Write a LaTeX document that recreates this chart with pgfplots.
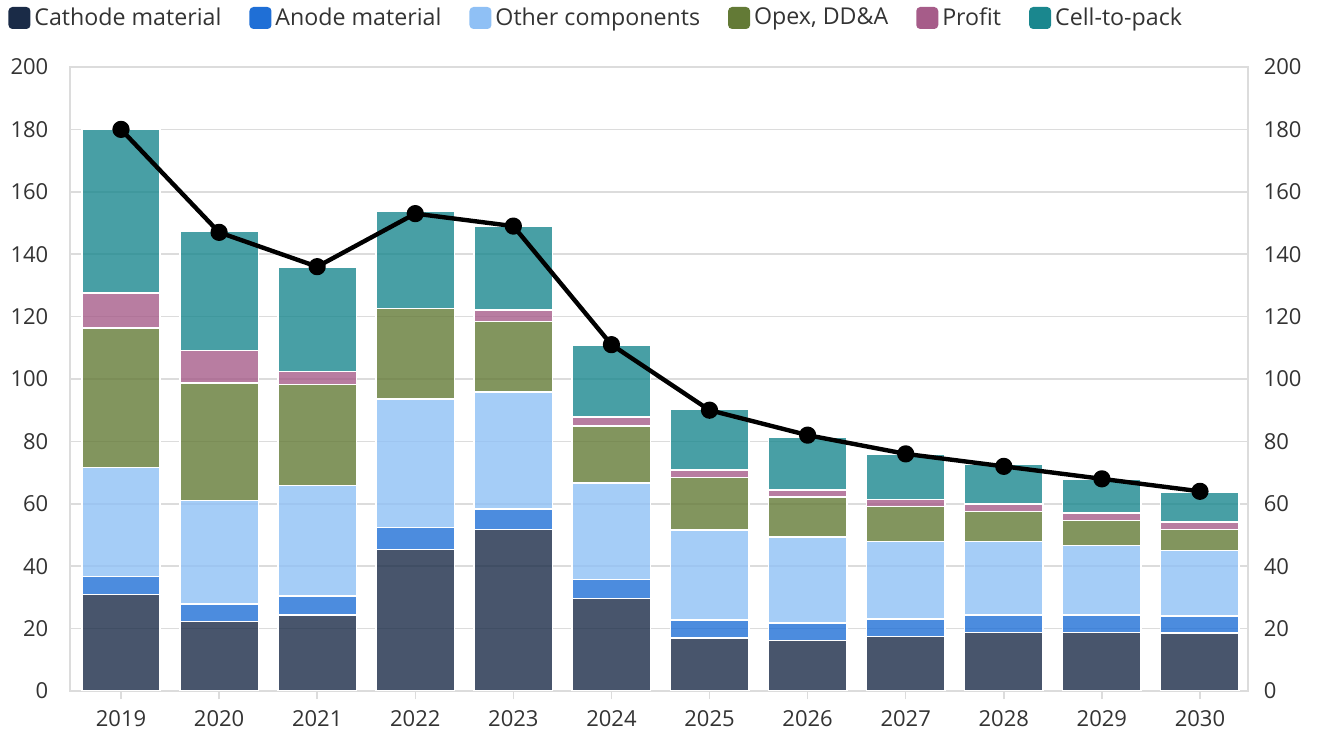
\documentclass[border=0pt]{standalone}
\usepackage{fontspec}
\setmainfont{Open Sans}
\usepackage{pgfplots}
\pgfplotsset{compat=1.18}
\usepackage{pgfplotstable}

\definecolor{cathC}{HTML}{1A2B47}
\definecolor{anodeC}{HTML}{1F6FD6}
\definecolor{otherC}{HTML}{8FC0F5}
\definecolor{opexC}{HTML}{637A36}
\definecolor{profitC}{HTML}{A65C89}
\definecolor{ctpC}{HTML}{1A878E}
\definecolor{gridC}{HTML}{DCDCDC}
\definecolor{txtC}{HTML}{333333}

\pgfplotstableread{
x cath anode other opex profit ctp total
0 31.0 5.7 34.9 44.8 11.2 52.4 180
1 22.2 5.7 33.1 37.7 10.5 38.3 147
2 24.3 6.1 35.5 32.4 4.1 33.3 136
3 45.3 7.1 41.2 29.0 0.0 31.1 153
4 51.7 6.7 37.4 22.6 3.7 26.8 149
5 29.7 6.0 31.0 18.2 2.9 23.0 111
6 17.0 5.8 28.8 16.9 2.3 19.6 90
7 16.2 5.6 27.6 12.7 2.4 16.9 82
8 17.5 5.6 24.8 11.3 2.1 14.5 76
9 18.8 5.5 23.6 9.7 2.3 12.7 72
10 18.8 5.5 22.3 8.1 2.4 10.8 68
11 18.6 5.4 21.0 6.7 2.5 9.5 64
}\data

\begin{document}
\fontsize{11}{13}\selectfont
\begin{tikzpicture}
\path[use as bounding box] (-35pt,-20.5pt) rectangle (627.5pt,345.5pt);
\pgfplotsset{
  common/.style={
    at={(0pt,0pt)}, anchor=south west,
    scale only axis, width=589pt, height=312pt,
    xmin=-0.52, xmax=11.49, ymin=0, ymax=200,
    ytick={0,20,...,200},
    /pgf/number format/assume math mode=true,
    tick label style={font=\fontsize{11}{13}\selectfont, text=txtC},
  }
}
\begin{axis}[common,
  ybar stacked, bar width=0.8,
  axis line style={draw=gridC, line width=0.75pt},
  ymajorgrids, grid style={draw=gridC, line width=0.75pt},
  xtick=data, xticklabels={2019,2020,2021,2022,2023,2024,2025,2026,2027,2028,2029,2030},
  xtick pos=bottom, tick align=outside, major tick length=4pt,
  xtick style={draw=gridC, line width=0.75pt},
  ytick style={draw=none},
  ytick pos=left,
  yticklabel style={xshift=-3pt},
  xticklabel style={yshift=-2pt},
  legend columns=6,
  legend style={at={(-0.0526,1.0785)}, anchor=west, draw=none, fill=none,
    font=\fontsize{11.6}{13}\selectfont, text=txtC,
    /tikz/every even column/.append style={column sep=12pt},
    inner sep=0pt},
  legend image code/.code={\fill[#1, fill opacity=1, draw=none, rounded corners=2pt] (0pt,-5.5pt) rectangle (11pt,5.5pt);},
  every axis plot/.append style={draw=white, line width=0.75pt, fill opacity=0.8},
]
\addplot[fill=cathC] table[x=x,y=cath]{\data};
\addplot[fill=anodeC] table[x=x,y=anode]{\data};
\addplot[fill=otherC] table[x=x,y=other]{\data};
\addplot[fill=opexC] table[x=x,y=opex]{\data};
\addplot[fill=profitC] table[x=x,y=profit]{\data};
\addplot[fill=ctpC] table[x=x,y=ctp]{\data};
\legend{Cathode material,Anode material,Other components,{Opex, DD\&A},Profit,Cell-to-pack}
\end{axis}
\begin{axis}[common,
  axis x line=none,
  axis y line*=right,
  axis line style={draw=none},
  ytick style={draw=none},
  yticklabel pos=right,
  yticklabel style={xshift=4pt},
  clip=false,
]
\addplot[black, line width=2.2pt, mark=*, mark size=3.2pt, line join=round] table[x=x,y=total]{\data};
\end{axis}
\end{tikzpicture}
\end{document}
